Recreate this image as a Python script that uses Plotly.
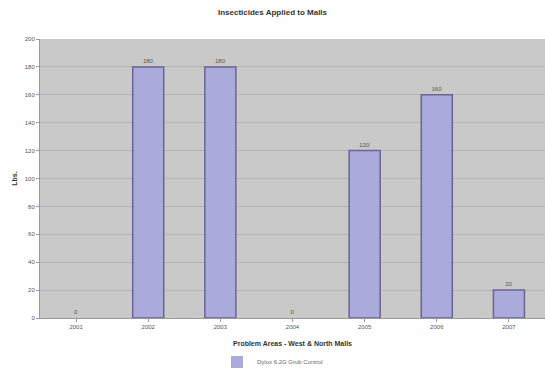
import plotly.graph_objects as go

years = ["2001", "2002", "2003", "2004", "2005", "2006", "2007"]
lbs = [0, 180, 180, 0, 120, 160, 20]
series_name = "Dylox 6.2G Grub Control"
y_ticks = [0, 20, 40, 60, 80, 100, 120, 140, 160, 180, 200]

fig = go.Figure()
fig.add_trace(go.Bar(
    x=years, y=lbs, name=series_name,
    marker=dict(color="#aaaadc",
                line=dict(color="#6c6490", width=[1.5 if v > 0 else 0 for v in lbs])),
    width=0.43,
    text=[str(v) for v in lbs], textposition="outside",
    textfont=dict(size=6, color="#555555", family="Liberation Sans"),
    cliponaxis=False,
))

fig.update_layout(
    width=545, height=373,
    margin=dict(l=40, r=0, t=39, b=55, autoexpand=False),
    paper_bgcolor="white", plot_bgcolor="#c9c9c9",
    font=dict(family="Liberation Sans", size=6, color="#444444"),
    title=dict(text="<b>Insecticides Applied to Malls</b>", x=0.5, xanchor="center",
               y=0.975, yanchor="top", font=dict(size=8, color="#333333")),
    showlegend=True,
    legend=dict(orientation="h", x=0.5, xanchor="center", xref="container",
                y=11/373, yanchor="middle", yref="container",
                font=dict(size=6, color="#666666"),
                borderwidth=0, itemwidth=30, bgcolor="rgba(0,0,0,0)"),
)
fig.update_xaxes(
    title=dict(text="<b>Problem Areas - West & North Malls</b>", font=dict(size=7, color="#333333"), standoff=11),
    showline=True, linecolor="#999999", ticks="outside", ticklen=3, tickcolor="#999999",
    tickfont=dict(size=6, color="#555555"),
)
fig.update_yaxes(
    title=dict(text="<b>Lbs.</b>", font=dict(size=7, color="#333333"), standoff=6),
    range=[0, 200], tickvals=y_ticks, showgrid=True, gridcolor="#b3b3b3", gridwidth=1,
    zeroline=False, showline=True, linecolor="#999999", ticks="outside", ticklen=3,
    tickcolor="#999999", tickfont=dict(size=6, color="#555555"),
)

fig.write_html("out.html")
